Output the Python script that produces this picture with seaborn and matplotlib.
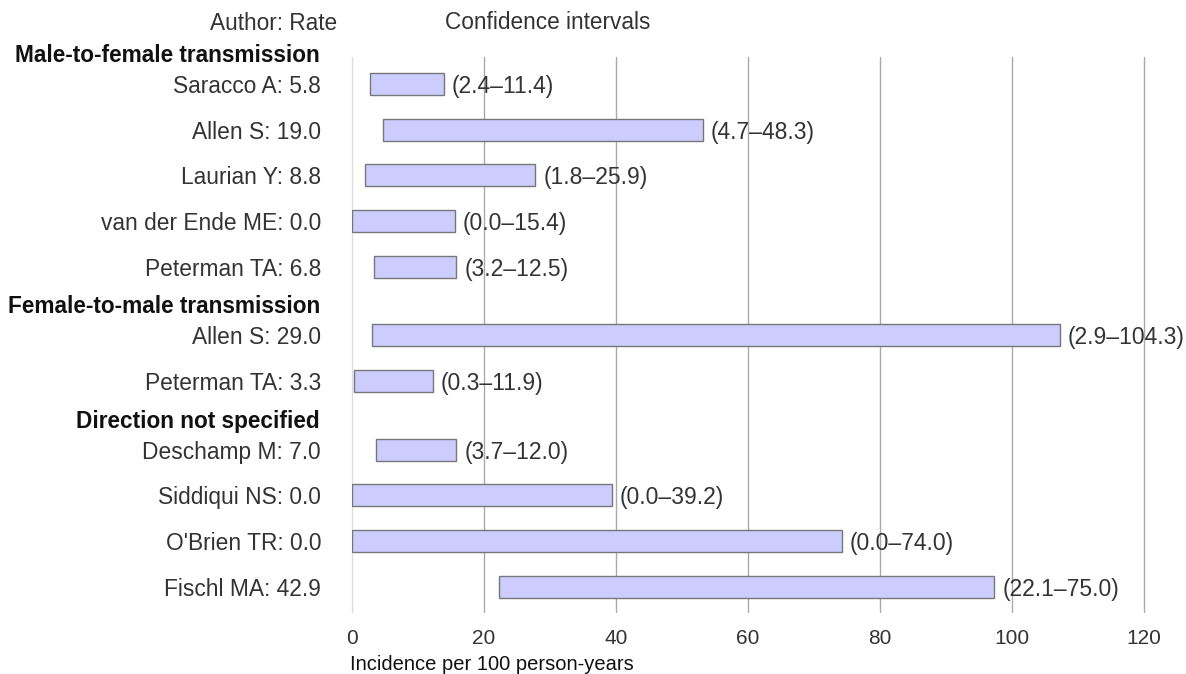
import numpy as np
import matplotlib
matplotlib.use("Agg")
import matplotlib.pyplot as plt
import seaborn as sns

# Data
groups = ["Male-to-female transmission"] * 5 + ["Female-to-male transmission"] * 2 + ["Direction not specified"] * 4
authors = ["Saracco A", "Allen S", "Laurian Y", "van der Ende ME", "Peterman TA",
           "Allen S", "Peterman TA",
           "Deschamp M", "Siddiqui NS", "O'Brien TR", "Fischl MA"]
rates = [5.8, 19.0, 8.8, 0.0, 6.8, 29.0, 3.3, 7.0, 0.0, 0.0, 42.9]
ci_labels = ["(2.4–11.4)", "(4.7–48.3)", "(1.8–25.9)", "(0.0–15.4)", "(3.2–12.5)",
             "(2.9–104.3)", "(0.3–11.9)",
             "(3.7–12.0)", "(0.0–39.2)", "(0.0–74.0)", "(22.1–75.0)"]
# bar extents as drawn in the picture
bar_low = [2.8, 4.7, 1.9, 0.0, 3.4, 3.1, 0.3, 3.7, 0.0, 0.0, 22.3]
bar_high = [13.9, 53.2, 27.8, 15.6, 15.8, 107.2, 12.2, 15.8, 39.4, 74.2, 97.3]
x_ticks = [0, 20, 40, 60, 80, 100, 120]

sns.set_theme(style="white")
plt.rcParams['font.family'] = ['Liberation Sans', 'DejaVu Sans']

# row positions: one unit per study, half a unit extra before a new group
positions = []
header_rows = []
pos = 0.0
for i, g in enumerate(groups):
    if i > 0 and g != groups[i - 1]:
        pos += 0.5
    if i == 0 or g != groups[i - 1]:
        header_rows.append((g, pos - 0.68))
    positions.append(pos)
    pos += 1

W, H = 1186, 674
fig = plt.figure(figsize=(W / 100, H / 100), dpi=100)
ax = fig.add_axes([352 / W, 1 - 612 / H, 792 / W, (612 - 57) / H])

for x in x_ticks:
    ax.axvline(x, color="#dddddd" if x == 0 else "#aaaaaa", lw=1, zorder=0, clip_on=False)

ax.barh(positions, np.array(bar_high) - np.array(bar_low), left=bar_low,
        height=0.48, color="#ccccff", edgecolor="#777777", linewidth=1, zorder=2)

for p, hi, lab in zip(positions, bar_high, ci_labels):
    ax.annotate(lab, xy=(hi, p), xytext=(8, 0), textcoords="offset pixels",
                ha="left", va="center_baseline", fontsize=16.5, color="#333333",
                annotation_clip=False)

for p, a, r in zip(positions, authors, rates):
    ax.annotate(f"{a}: {r:.1f}", xy=(0, p), xytext=(-31, 0), textcoords="offset pixels",
                ha="right", va="center_baseline", fontsize=16.4, color="#333333",
                annotation_clip=False)

for g, p in header_rows:
    ax.annotate(g, xy=(0, p), xytext=(-32, 0), textcoords="offset pixels",
                ha="right", va="center_baseline", fontsize=16.3, fontweight="bold",
                color="#111111", annotation_clip=False)

fig.text(337 / W, 1 - 21 / H, "Author: Rate", ha="right", va="center_baseline",
         fontsize=16.3, color="#333333")
fig.text(445 / W, 1 - 20 / H, "Confidence intervals", ha="left", va="center_baseline",
         fontsize=16.3, color="#333333")

ax.set_xlim(0, 120)
ax.set_ylim(pos - 1 + 0.55, -0.59)
ax.set_xticks(x_ticks)
ax.set_yticks([])
ax.tick_params(axis="x", length=0, pad=12, labelsize=15, labelcolor="#333333")
for s in ax.spines.values():
    s.set_visible(False)
ax.patch.set_alpha(0)

fig.text(350 / W, 1 - 662 / H, "Incidence per 100 person-years", ha="left", va="center_baseline",
         fontsize=14.5, color="#111111")

fig.savefig("out.png", dpi=100)
